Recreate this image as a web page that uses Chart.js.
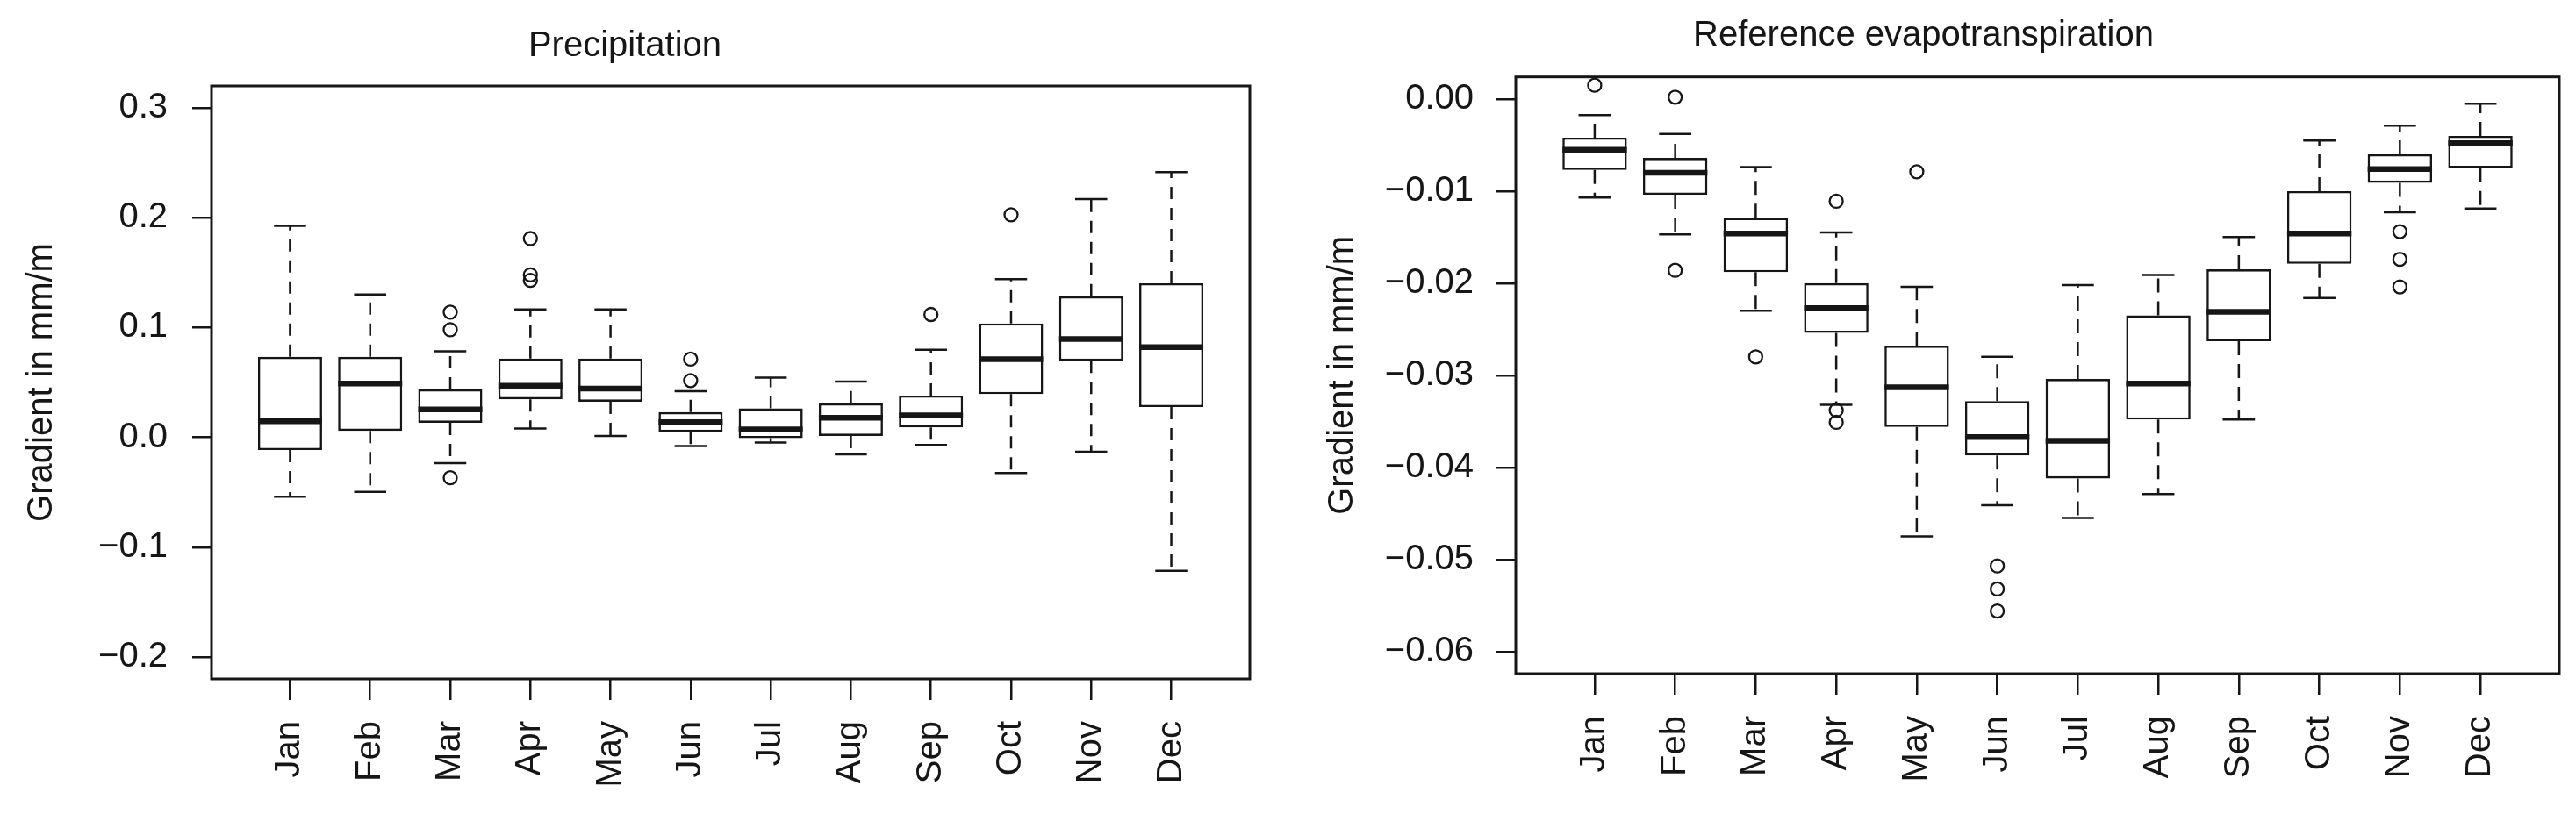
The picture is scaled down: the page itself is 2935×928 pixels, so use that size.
<!DOCTYPE html>
<html>
<head>
<meta charset="utf-8">
<script src="https://cdn.jsdelivr.net/npm/chart.js@4.4.0/dist/chart.umd.min.js"></script>
<style>
  body { margin: 0; background: #fff; width: 2935px; height: 928px; overflow: hidden; position: relative; }
  canvas { position: absolute; top: 0; }
</style>
</head>
<body>
<canvas id="precip" width="1467" height="928" style="left:0px"></canvas>
<canvas id="et" width="1468" height="928" style="left:1467px"></canvas>
<script>
const months = ['Jan', 'Feb', 'Mar', 'Apr', 'May', 'Jun', 'Jul', 'Aug', 'Sep', 'Oct', 'Nov', 'Dec']

// Precipitation gradient (mm/m), box plot stats per month
const precipMin    = [-0.054, -0.0496, -0.0235, 0.008, 0.0013, -0.008, -0.0048, -0.0155, -0.007, -0.0325, -0.0131, -0.1215]
const precipQ1     = [-0.0115, 0.0059, 0.0133, 0.0347, 0.0325, 0.005, -0.0008, 0.0013, 0.0091, 0.0394, 0.0697, 0.0276]
const precipMedian = [0.0147, 0.049, 0.0255, 0.047, 0.0445, 0.0139, 0.0072, 0.0179, 0.020, 0.0712, 0.0896, 0.0821]
const precipQ3     = [0.0733, 0.0733, 0.0437, 0.0717, 0.0717, 0.023, 0.0264, 0.031, 0.038, 0.1038, 0.1284, 0.1403]
const precipMax    = [0.1925, 0.130, 0.0784, 0.1165, 0.1165, 0.042, 0.0544, 0.0507, 0.0797, 0.144, 0.217, 0.2416]
const precipOutliers = [[], [], [0.114, 0.098, -0.0368], [0.181, 0.148, 0.143], [], [0.0712, 0.0517], [], [], [0.1119], [0.2027], [], []]
const precipTicks = [-0.2, -0.1, 0.0, 0.1, 0.2, 0.3]
const precipTickLabels = ['\u22120.2', '\u22120.1', '0.0', '0.1', '0.2', '0.3']

// Reference evapotranspiration gradient (mm/m)
const etMin    = [-0.0107, -0.0147, -0.0230, -0.0332, -0.0475, -0.0441, -0.0455, -0.0429, -0.0348, -0.0216, -0.0123, -0.0119]
const etQ1     = [-0.0077, -0.0104, -0.0188, -0.0254, -0.0356, -0.0387, -0.0412, -0.0348, -0.0263, -0.0179, -0.0091, -0.0075]
const etMedian = [-0.0055, -0.0080, -0.0146, -0.0227, -0.0313, -0.0367, -0.0371, -0.0309, -0.0231, -0.0146, -0.0076, -0.0048]
const etQ3     = [-0.0042, -0.0064, -0.0129, -0.0200, -0.0268, -0.0328, -0.0304, -0.0235, -0.0185, -0.0100, -0.0060, -0.0040]
const etMax    = [-0.00175, -0.0038, -0.0074, -0.0145, -0.0204, -0.0280, -0.0202, -0.0191, -0.0150, -0.0045, -0.0029, -0.0005]
const etOutliers = [[0.0015], [0.0002, -0.0186], [-0.0280], [-0.0111, -0.0338, -0.0351], [-0.0079], [-0.0507, -0.0532, -0.0556], [], [], [], [], [-0.0144, -0.0174, -0.0204], []]
const etTicks = [-0.06, -0.05, -0.04, -0.03, -0.02, -0.01, 0.0]
const etTickLabels = ['\u22120.06', '\u22120.05', '\u22120.04', '\u22120.03', '\u22120.02', '\u22120.01', '0.00']

const ink = '#161616'
Chart.defaults.font.family = '"Liberation Sans", Arial, sans-serif'
Chart.defaults.font.size = 40
Chart.defaults.color = ink

// whiskers, caps, medians and the plot frame
const boxExtras = {
    id: 'boxExtras',
    afterDatasetsDraw(chart, args, opts) {
        const ctx = chart.ctx
        const xs = chart.scales.x, ys = chart.scales.y
        const bars = chart.getDatasetMeta(0).data
        ctx.save()
        ctx.strokeStyle = ink
        for (let i = 0; i < opts.median.length; i++) {
            const x = xs.getPixelForValue(i + 1)
            const w = bars[i].width
            const top = ys.getPixelForValue(opts.q3[i]), bot = ys.getPixelForValue(opts.q1[i])
            const hi = ys.getPixelForValue(opts.max[i]), lo = ys.getPixelForValue(opts.min[i])
            ctx.lineWidth = 2.5
            ctx.setLineDash(opts.dash)
            ctx.beginPath()
            ctx.moveTo(x, top); ctx.lineTo(x, hi)
            ctx.moveTo(x, bot); ctx.lineTo(x, lo)
            ctx.stroke()
            ctx.setLineDash([])
            ctx.beginPath()
            ctx.moveTo(x - w / 4, hi); ctx.lineTo(x + w / 4, hi)
            ctx.moveTo(x - w / 4, lo); ctx.lineTo(x + w / 4, lo)
            ctx.stroke()
            const m = ys.getPixelForValue(opts.median[i])
            ctx.lineWidth = 6.5
            ctx.beginPath()
            ctx.moveTo(x - w / 2, m); ctx.lineTo(x + w / 2, m)
            ctx.stroke()
        }
        ctx.restore()
    },
    afterDraw(chart) {
        const a = chart.chartArea, ctx = chart.ctx
        ctx.save()
        ctx.strokeStyle = ink
        ctx.lineWidth = 3
        ctx.strokeRect(a.left, a.top, a.right - a.left, a.bottom - a.top)
        ctx.restore()
    }
}

function drawBoxChart(id, title, stats, ticks, tickLabels, yMin, yMax, geo) {
    const boxes = months.map((m, i) => ({ x: i + 1, y: [stats.q1[i], stats.q3[i]] }))
    const points = []
    stats.outliers.forEach((list, i) => list.forEach(v => points.push({ x: i + 1, y: v })))

    const data = {
        datasets: [{
            type: 'bar',
            data: boxes,
            backgroundColor: '#fff',
            borderColor: ink,
            borderWidth: 2.6,
            borderSkipped: false,
            barPercentage: 0.8,
            categoryPercentage: 1.0
        }, {
            type: 'scatter',
            data: points,
            pointRadius: 7.5,
            pointBorderWidth: 2.3,
            pointBackgroundColor: 'rgba(0,0,0,0)',
            pointBorderColor: ink
        }]
    }

    const config = {
        type: 'bar',
        data: data,
        plugins: [boxExtras],
        options: {
            responsive: false,
            animation: false,
            devicePixelRatio: 1,
            events: [],
            layout: { padding: { left: 0, right: geo.padRight, top: 0, bottom: 0 } },
            plugins: {
                legend: { display: false },
                tooltip: { enabled: false },
                title: {
                    display: true,
                    text: title,
                    color: ink,
                    font: { size: 40, weight: 'normal' },
                    padding: { top: geo.titleTop, bottom: geo.titleBottom }
                },
                boxExtras: Object.assign({ dash: geo.dash }, stats)
            },
            scales: {
                x: {
                    type: 'linear',
                    min: 0.02,
                    max: 12.98,
                    offset: false,
                    afterFit: s => { s.height = geo.xHeight },
                    afterBuildTicks: s => { s.ticks = months.map((m, i) => ({ value: i + 1 })) },
                    ticks: {
                        callback: v => months[v - 1],
                        minRotation: 90,
                        maxRotation: 90,
                        padding: 24,
                        color: ink,
                        autoSkip: false
                    },
                    grid: { offset: false, drawOnChartArea: false, drawTicks: true, tickLength: 24, color: ink, lineWidth: 2.5 },
                    border: { display: false }
                },
                y: {
                    min: yMin,
                    max: yMax,
                    afterFit: s => { s.width = geo.yWidth },
                    afterBuildTicks: s => { s.ticks = ticks.map(v => ({ value: v })) },
                    ticks: {
                        callback: (v, i) => tickLabels[i],
                        padding: geo.yPad,
                        color: ink
                    },
                    grid: { drawOnChartArea: false, drawTicks: true, tickLength: 22, color: ink, lineWidth: 2.5 },
                    border: { display: false },
                    title: {
                        display: true,
                        text: 'Gradient in mm/m',
                        color: ink,
                        font: { size: 40 },
                        padding: { top: geo.yTitle, bottom: 0 }
                    }
                }
            }
        }
    }

    let ctx = document.getElementById(id).getContext('2d')
    new Chart(ctx, config)
}

drawBoxChart('precip', 'Precipitation',
    { min: precipMin, q1: precipQ1, median: precipMedian, q3: precipQ3, max: precipMax, outliers: precipOutliers },
    precipTicks, precipTickLabels, -0.22, 0.32,
    { padRight: 43, titleTop: 28.5, titleBottom: 21.5, xHeight: 154, yWidth: 241, yPad: 28, yTitle: 24, dash: [14, 10] })

drawBoxChart('et', 'Reference evapotranspiration',
    { min: etMin, q1: etQ1, median: etMedian, q3: etQ3, max: etMax, outliers: etOutliers },
    etTicks, etTickLabels, -0.0624, 0.0024,
    { padRight: 19, titleTop: 17, titleBottom: 22.7, xHeight: 160, yWidth: 260, yPad: 26, yTitle: 39, dash: [16, 10] })
</script>
</body>
</html>
